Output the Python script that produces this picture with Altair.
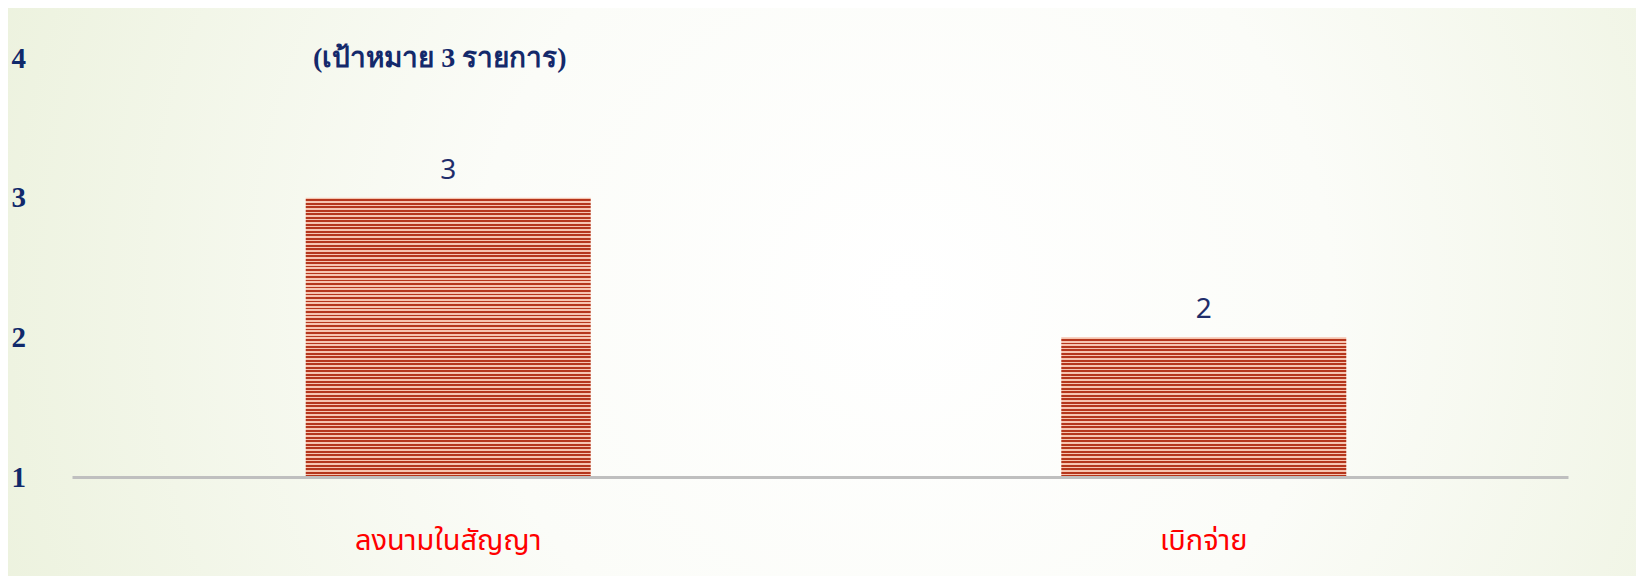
import altair as alt
import pandas as pd

categories = ["ลงนามในสัญญา", "เบิกจ่าย"]
values = [3, 2]
value_labels = ["3", "2"]
y_ticks = [1, 2, 3, 4]
title_text = "(เป้าหมาย 3 รายการ)"
BASE = 1

df = pd.DataFrame({"cat": categories, "val": values, "lbl": value_labels})

DARK = "#b5361c"
LIGHT = "#f6c4b0"
STRIPES_PER_UNIT = 40


def stripes(n):
    stops = [{"offset": 0, "color": "#f0d2c4"}]
    for i in range(n):
        a = i / n
        m = (i + 0.48) / n
        b = (i + 1) / n
        stops += [
            {"offset": a, "color": LIGHT},
            {"offset": m, "color": LIGHT},
            {"offset": m, "color": DARK},
            {"offset": b, "color": DARK},
        ]
    return {"gradient": "linear", "x1": 0, "y1": 0, "x2": 0, "y2": 1, "stops": stops}


radial = {
    "gradient": "radial",
    "x1": 0.55, "y1": 0.5, "r1": 0,
    "x2": 0.55, "y2": 0.5, "r2": 0.75,
    "stops": [
        {"offset": 0, "color": "#ffffff"},
        {"offset": 0.35, "color": "#fbfcf8"},
        {"offset": 1, "color": "#e5edd1"},
    ],
}

W, H = 1496, 419
PAD = {"left": 64, "top": 50, "right": 68, "bottom": 99}
SHIFT = 6

x_enc = alt.X(
    "cat:N", sort=categories,
    scale=alt.Scale(paddingInner=0.02, paddingOuter=0),
    axis=alt.Axis(
        title=None, labelAngle=0, labelColor="#ff0000",
        labelFont="Noto Sans Thai, Noto Sans, sans-serif", labelFontSize=29,
        labelPadding=63, labelBaseline="middle", ticks=False, tickSize=0,
        domainColor="#bfbfbf", domainWidth=3, labelLimit=0, labelOffset=SHIFT,
        zindex=2,
    ),
)
y_enc = alt.Y(
    "val:Q",
    scale=alt.Scale(domain=[1, 4], zero=False, nice=False),
    axis=alt.Axis(
        title=None, values=y_ticks, format="d",
        labelFont="Liberation Serif", labelFontWeight="bold", labelFontSize=29,
        labelColor="#10296b", labelAlign="left", labelPadding=61,
        ticks=False, tickSize=0, domain=False, grid=False, zindex=2,
    ),
)

bg = alt.Chart(pd.DataFrame({"k": [0]})).mark_rect(color=radial).encode(
    x=alt.value(-PAD["left"]), x2=alt.value(W + PAD["right"]),
    y=alt.value(-PAD["top"]), y2=alt.value(H + PAD["bottom"]),
)

bar_layers = []
for c, v in zip(categories, values):
    n = int(round((v - BASE) * STRIPES_PER_UNIT))
    bar_layers.append(
        alt.Chart(df).transform_filter(alt.datum.cat == c)
        .mark_bar(color=stripes(n), size=285, xOffset=SHIFT)
        .encode(x=x_enc, y=y_enc, y2=alt.Y2(datum=BASE))
    )

txt = alt.Chart(df).mark_text(
    dy=-27, dx=SHIFT, fontSize=28, font="Noto Sans", color="#1f2d6b", baseline="middle"
).encode(x=x_enc, y=y_enc, text="lbl:N")

chart = alt.layer(bg, *bar_layers, txt).properties(
    width=W, height=H,
    title=alt.Title(
        title_text, anchor="start", frame="group", dx=241, offset=-79,
        baseline="middle", font="Liberation Serif", fontWeight="bold",
        fontSize=28, color="#14296b", zindex=3,
    ),
    autosize=alt.AutoSizeParams(type="none"),
    padding=PAD,
).configure(background="#e9f0da").configure_view(stroke=None)

chart.save("out.html", embed_options={"renderer": "svg", "actions": False})
